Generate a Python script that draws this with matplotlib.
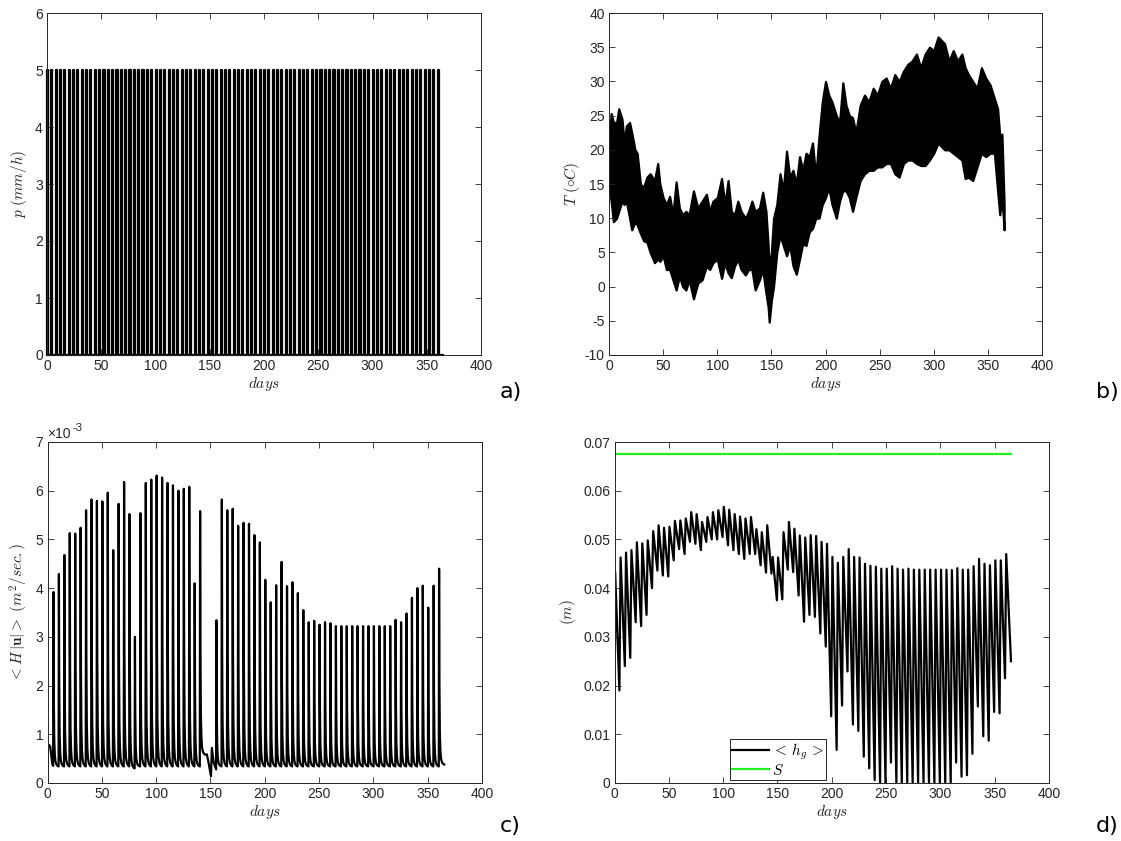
import numpy as np
import matplotlib
matplotlib.use("Agg")
import matplotlib.pyplot as plt

plt.rcParams['font.family'] = ['Liberation Sans', 'DejaVu Sans']
plt.rcParams['mathtext.fontset'] = 'cm'
plt.rcParams['axes.unicode_minus'] = False

# ---- a) rain pulses ----
rain_days = np.arange(0, 362, 4)
rain_rate = 5.0
rain_length = 1.0

# ---- b) temperature envelope (upper / lower) ----
temp_days = [0, 2, 4, 7, 9, 12, 14, 16, 19, 21, 24, 26, 29, 32, 35, 38, 42, 45, 47, 50,
             53, 56, 59, 62, 65, 68, 71, 74, 78, 82, 86, 90, 93, 96, 100, 104, 107, 110, 113, 116,
             119, 122, 126, 129, 132, 135, 139, 142, 145, 147, 148, 150, 152, 155, 158, 161, 164, 167, 170, 173,
             176, 179, 182, 185, 188, 191, 194, 197, 200, 203, 206, 210, 213, 216, 219, 222, 225, 228, 232, 236,
             240, 244, 248, 252, 256, 260, 264, 268, 272, 276, 280, 284, 288, 292, 296, 300, 304, 307, 310, 314,
             318, 322, 326, 329, 332, 336, 340, 344, 348, 352, 356, 359, 361, 363, 365]
temp_high = [21, 25.3, 24, 24, 26, 24.5, 21, 23.5, 24, 22.5, 20, 19.5, 15, 14.5, 16, 16.5, 15.5, 18, 15, 13,
             12, 13.2, 10.5, 15.3, 11.5, 10.5, 11, 10.5, 14, 11.5, 12.5, 13.5, 11, 12.5, 13, 15.8, 12, 15.5, 11, 10.5,
             12.5, 11, 10, 11, 12.5, 11, 11.5, 13.8, 11, 6, 2.5, 5, 10, 12, 16.5, 14, 19.8, 16, 17, 15,
             19, 17, 19.5, 19, 21, 16, 22, 27, 30, 28, 27, 25, 24, 29.8, 26.5, 25, 24.7, 22.5, 26.5, 28,
             27, 29, 28, 30, 30.5, 29, 31, 30, 31.5, 32.5, 33, 34, 32, 34, 35, 34.5, 36.5, 36, 35.5, 33,
             34.5, 33, 34, 32, 31, 30, 29, 32, 30.5, 29.5, 27.5, 26, 22, 22.3, 12]
temp_low = [14.5, 12.5, 9.5, 10, 11, 12.5, 12, 12.5, 10, 8.3, 9.5, 9, 7.8, 6.7, 6.5, 5, 3.5, 4, 3.7, 4.5,
            2.5, 2.5, 1, -0.5, 1.5, 0, -0.5, 1, -1.8, 0.5, 1, 3, 2.5, 3.5, 4, 1.2, 3.5, 2, 1.3, 3,
            4, 2.5, 1.7, 2.5, 2.5, -0.5, 1, 2.5, -1, -3, -5.2, -2, 0, 5, 7.5, 6, 4.5, 6, 3, 1.8,
            4, 6.3, 6, 8, 8.5, 10, 10, 12, 13, 14.5, 12, 10, 12.5, 14, 14, 13, 11, 13, 15.5, 16.5,
            17, 17, 17.5, 17.5, 18, 18, 16.5, 16, 18, 18.5, 18.5, 18, 17.7, 17.7, 18.5, 19.5, 21, 20.5, 20, 20,
            19.5, 19, 18.5, 15.8, 16, 15.5, 17.5, 19.5, 19, 19.5, 19.5, 14, 10.5, 13, 8.3]

# ---- c) <H|u|> spikes, units of 1e-3 m^2/s ----
hu_peak_days = np.r_[np.arange(5.5, 141, 5), np.arange(155.5, 361, 5)]
hu_peaks = [3.92, 4.29, 4.68, 5.13, 5.12, 5.24, 5.6, 5.82, 5.79, 5.78, 5.96, 4.78, 5.73, 6.18,
            5.52, 3.0, 5.54, 6.16, 6.23, 6.31, 6.27, 6.16, 6.11, 6.0, 6.04, 6.08, 4.1, 5.58,
            3.34, 5.82, 5.6, 5.63, 5.28, 5.34, 5.32, 5.09, 4.94, 4.17, 3.71, 4.06, 4.54, 4.04, 4.12, 3.90,
            3.55, 3.3, 3.33, 3.25, 3.3, 3.28,
            3.22, 3.22, 3.22, 3.22, 3.22, 3.22, 3.22, 3.22, 3.22, 3.22, 3.22,
            3.35, 3.3, 3.48, 3.8, 4.0, 4.05, 3.6, 4.05, 4.4]
hu_troughs = [0.34] * 14 + [0.30] + [0.34] * 11 + [0.34, 0.58] + [0.34] * 41 + [0.38]
hu_start_days = [0, 0.05, 0.5, 2.5, 4.5, 5.2]
hu_start = [0, 0.0, 0.8, 0.75, 0.38, 0.35]
hu_dry_days = [146.7, 148, 150.5, 151.3, 153, 155.2]
hu_dry = [0.59, 0.45, 0.14, 0.72, 0.42, 0.28]
# recession after each spike (days after peak, share of the spike left)
recess_dt = [0.3, 0.7, 1.2, 1.8, 2.6, 3.6, 4.7]
recess_share = [0.42, 0.16, 0.07, 0.03, 0.012, 0.004, 0.0]

# ---- d) <h_g> and S ----
hg_peak_days = np.arange(0.6, 362, 5)
hg_peaks = [0.0433, 0.0463, 0.0473, 0.0478, 0.0494, 0.0492, 0.0498, 0.0517, 0.0529, 0.0524,
            0.0526, 0.0538, 0.0539, 0.0543, 0.0556, 0.0552, 0.0536, 0.0546, 0.0556, 0.056,
            0.0567, 0.0561, 0.0552, 0.0547, 0.0543, 0.0546, 0.0521, 0.0515, 0.0529, 0.0464,
            0.0463, 0.0515, 0.0536, 0.0522, 0.0508,
            0.0504, 0.0509, 0.0507, 0.0495, 0.0491, 0.0464, 0.0452, 0.0464, 0.048, 0.0464,
            0.0463, 0.045, 0.0446, 0.0444, 0.044, 0.044, 0.0445, 0.044, 0.0438, 0.044,
            0.0438, 0.0438, 0.0438, 0.0438, 0.0438, 0.0438, 0.0438, 0.0437, 0.0441, 0.0438,
            0.0438, 0.0445, 0.046, 0.045, 0.0447, 0.0457, 0.0457, 0.047]
hg_trough_days = list(np.arange(4.5, 361, 5)) + [365]
hg_troughs = [0.019, 0.024, 0.0257, 0.033, 0.0322, 0.0345, 0.040, 0.0436, 0.0426, 0.0424,
              0.0457, 0.048, 0.047, 0.0495, 0.0491, 0.0478, 0.0495, 0.050, 0.050, 0.0505,
              0.0488, 0.0478, 0.047, 0.046, 0.047, 0.047, 0.0447, 0.0432, 0.043, 0.0375,
              0.0377, 0.0438, 0.0433, 0.0385, 0.0331,
              0.0345, 0.0341, 0.0307, 0.028, 0.0137, 0.0068, 0.0159, 0.0229, 0.012, 0.0107,
              0.0054, 0.003, 0.0006, 0.0, 0.0, 0.0042,
              0.0, 0.0, 0.0, 0.0, 0.0, 0.0, 0.0, 0.0, 0.0, 0.0, 0.0,
              0.0042, 0.0013, 0.0016, 0.006, 0.0157, 0.0096, 0.0087, 0.0146, 0.0143, 0.0215, 0.025]
storage_S = 0.0675
S_days = [0, 365]

W, H = 1121, 841
fig = plt.figure(figsize=(W / 100, H / 100), dpi=100)
grey = '#262626'


def style(ax):
    ax.set_xlim(0, 400)
    ax.set_xticks(np.arange(0, 401, 50))
    ax.tick_params(direction='in', top=True, right=True, length=4, width=0.6,
                   colors=grey, labelsize=10, pad=3)
    for s in ax.spines.values():
        s.set_color(grey)
        s.set_linewidth(0.7)
    ax.set_xlabel(r'$days$', fontsize=11, color=grey, labelpad=1)


def fmt(v, pos):
    return '%g' % round(v, 6)


ax_a = fig.add_axes([47 / W, 1 - 355 / H, 434 / W, 342 / H])
ax_b = fig.add_axes([609 / W, 1 - 355 / H, 433 / W, 342 / H])
ax_c = fig.add_axes([47.5 / W, 1 - 783 / H, 434.5 / W, 341 / H])
ax_d = fig.add_axes([614.5 / W, 1 - 783 / H, 434.5 / W, 341 / H])

# a)
px, py = [0], [0]
for t in rain_days:
    px += [t, t, t + rain_length, t + rain_length]
    py += [0, rain_rate, rain_rate, 0]
px.append(365)
py.append(0)
ax_a.plot(px, py, color='k', lw=1.6, clip_on=False)
style(ax_a)
ax_a.set_ylim(0, 6)
ax_a.set_ylabel(r'$p\ (mm/h)$', fontsize=11, color=grey)

# b)
ax_b.fill_between(temp_days, temp_low, temp_high, color='k', lw=1.6, edgecolor='k')
style(ax_b)
ax_b.set_ylim(-10, 40)
ax_b.set_yticks(np.arange(-10, 41, 5))
ax_b.set_ylabel(r'$T\ (\circ C)$', fontsize=11, color=grey, labelpad=2)

# c)
cx, cy = list(hu_start_days), list(hu_start)
for d, p, b in zip(hu_peak_days, hu_peaks, hu_troughs):
    if abs(d - 155.5) < 0.1:
        cx += hu_dry_days
        cy += hu_dry
    cx.append(d)
    cy.append(p)
    for dt, sh in zip(recess_dt, recess_share):
        cx.append(d + dt)
        cy.append(b + (p - b) * sh)
ax_c.plot(cx, np.array(cy) * 1e-3, color='k', lw=1.6)
style(ax_c)
ax_c.set_ylim(0, 0.007)
ax_c.set_yticks(np.arange(0, 0.0071, 0.001))
ax_c.set_yticklabels(['%d' % i for i in range(8)])
base = ax_c.text(0, 1.004, '\u00d710', transform=ax_c.transAxes,
                 fontsize=10, color=grey, va='bottom', ha='left')
ax_c.annotate('-3', xy=(1, 0.55), xycoords=base, xytext=(1, 0), textcoords='offset points',
              fontsize=8, color=grey, va='bottom', ha='left')
ax_c.set_ylabel(r'$<H\,|\mathbf{u}|>\ (m^2/sec.)$', fontsize=11, color=grey, labelpad=4)

# d)
dx, dy = [0], [0]
for pd_, pv, td, tv in zip(hg_peak_days, hg_peaks, hg_trough_days, hg_troughs):
    dx += [pd_, td]
    dy += [pv, tv]
ax_d.plot(dx, dy, color='k', lw=1.6, label=r'$<\,h_g\,>$')
ax_d.plot(S_days, [storage_S, storage_S], color='#22ee22', lw=1.6, label=r'$S$')
style(ax_d)
ax_d.set_ylim(0, 0.07)
ax_d.set_yticks(np.arange(0, 0.0701, 0.01))
ax_d.yaxis.set_major_formatter(plt.FuncFormatter(fmt))
ax_d.set_ylabel(r'$(m)$', fontsize=11, color=grey, labelpad=4)
leg = ax_d.legend(loc='lower left', bbox_to_anchor=(0.266, 0.009), borderaxespad=0,
                  fancybox=False, framealpha=1, edgecolor=grey, fontsize=11,
                  handlelength=2.4, handletextpad=0.2, borderpad=0.15, labelspacing=0.05)
leg.get_frame().set_linewidth(0.7)

for lbl, x, y in [('a)', 500, 392), ('b)', 1096, 392), ('c)', 500, 826), ('d)', 1096, 826)]:
    fig.text(x / W, 1 - y / H, lbl, fontsize=16, family='DejaVu Sans', va='center', ha='left')

fig.savefig('out.png', dpi=100)
